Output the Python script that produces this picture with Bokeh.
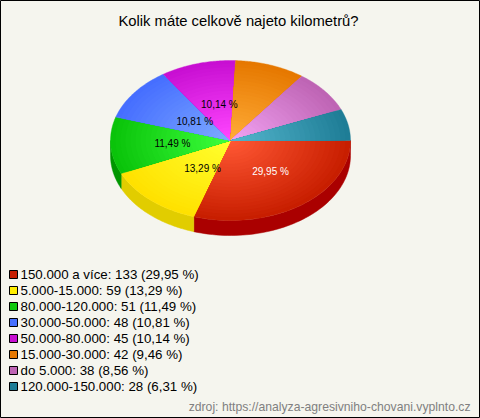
import numpy as np
from bokeh.plotting import figure
from bokeh.models import Range1d
from bokeh.core.properties import value
from bokeh.embed import file_html
from bokeh.resources import INLINE

TITLE = "Kolik máte celkově najeto kilometrů?"
SOURCE = "zdroj: https://analyza-agresivniho-chovani.vyplnto.cz"
categories = ["150.000 a více", "5.000-15.000", "80.000-120.000", "30.000-50.000",
              "50.000-80.000", "15.000-30.000", "do 5.000", "120.000-150.000"]
counts = [133, 59, 51, 48, 45, 42, 38, 28]
percents = [29.95, 13.29, 11.49, 10.81, 10.14, 9.46, 8.56, 6.31]
edge_colors = [(200, 30, 0), (255, 225, 0), (10, 195, 10), (70, 110, 255),
               (200, 15, 210), (230, 120, 0), (190, 100, 180), (30, 125, 150)]
center_colors = [(255, 88, 52), (255, 255, 45), (60, 255, 60), (125, 170, 255),
                 (255, 70, 255), (255, 172, 55), (242, 162, 242), (85, 182, 205)]
wall_colors = [(170, 0, 0), (225, 205, 0), (0, 150, 0), (40, 70, 200),
               (150, 0, 160), (180, 90, 0), (150, 70, 140), (20, 95, 115)]
swatch_colors = ["#c81e00", "#ffee00", "#0ec80e", "#4670ff", "#c80fd2", "#e67800", "#be64b4", "#1e7d96"]
label_fracs = [(0.566, 0.48), (0.35, 0.47), (0.485, 0.5), (0.37, 0.4), (0.34, 0.47)]

W, H = 480, 418
CX, CY, RX, RY, DEPTH = 230, 140, 120, 80, 15
BG = "#f5f5ee"
FONT = value("Liberation Sans")

p = figure(width=W, height=H, x_range=Range1d(0, W), y_range=Range1d(H, 0),
           toolbar_location=None, output_backend="svg", min_border=0,
           background_fill_color=BG, border_fill_color=BG,
           outline_line_color="black", outline_line_width=1)
p.styles = {"position": "absolute", "left": "0px", "top": "0px"}
p.xaxis.visible = False
p.yaxis.visible = False
p.grid.visible = False

tot = sum(percents)
edges = np.cumsum([0] + percents) / tot * 2 * np.pi


def mix(a, b, t):
    return "#%02x%02x%02x" % tuple(int(round(a[i] + (b[i] - a[i]) * t)) for i in range(3))


def rgb(c):
    return "#%02x%02x%02x" % c


def pct_text(v):
    return f"{v:.2f}".replace(".", ",") + " %"


# side wall (only front half visible)
for i in range(len(percents)):
    a0, a1 = edges[i], min(edges[i + 1], np.pi)
    if a0 >= np.pi:
        continue
    t = np.linspace(a0, a1, 60)
    xs = CX + RX * np.cos(t)
    ys = CY + RY * np.sin(t)
    p.patch(np.r_[xs, xs[::-1]], np.r_[ys, ys[::-1] + DEPTH],
            fill_color=rgb(wall_colors[i]), line_color=rgb(wall_colors[i]), line_width=0.5)

# top face: each slice as nested rings for the radial shading
RINGS = 24
for i in range(len(percents)):
    t = np.linspace(edges[i], edges[i + 1], 50)
    for k in range(RINGS):
        f = 1 - k / RINGS
        c = mix(edge_colors[i], center_colors[i], k / (RINGS - 1))
        xs = np.r_[CX, CX + f * RX * np.cos(t)]
        ys = np.r_[CY, CY + f * RY * np.sin(t)]
        p.patch(xs, ys, fill_color=c, line_color=c if k == 0 else None, line_width=0.4)

# value labels (slices of at least 10 %)
for i, pct in enumerate(percents):
    if pct < 10:
        continue
    m = (edges[i] + edges[i + 1]) / 2
    fx, fy = label_fracs[i]
    p.text([CX + fx * RX * np.cos(m)], [CY + fy * RY * np.sin(m)],
           text=[pct_text(pct)],
           text_font=FONT, text_font_size="10px", text_align="center", text_baseline="middle",
           text_color="white" if i == 0 else "black")

# title
p.text([238], [20], text=[TITLE], text_font=FONT, text_font_size="14.8px",
       text_align="center", text_baseline="middle", text_color="black")

# legend
for i, cat in enumerate(categories):
    y = 274 + 16 * i
    p.rect([13], [y], width=8, height=8, fill_color=swatch_colors[i], line_color="black", line_width=1)
    p.text([20], [y], text=[f"{cat}: {counts[i]} ({pct_text(percents[i])})"],
           text_font=FONT, text_font_size="13.3px", text_align="left", text_baseline="middle",
           text_color="black")

# source note
p.text([470], [406], text=[SOURCE], text_font=FONT, text_font_size="12.2px", text_align="right",
       text_baseline="middle", text_color="#808080")

open("out.html", "w").write(file_html(p, INLINE))
